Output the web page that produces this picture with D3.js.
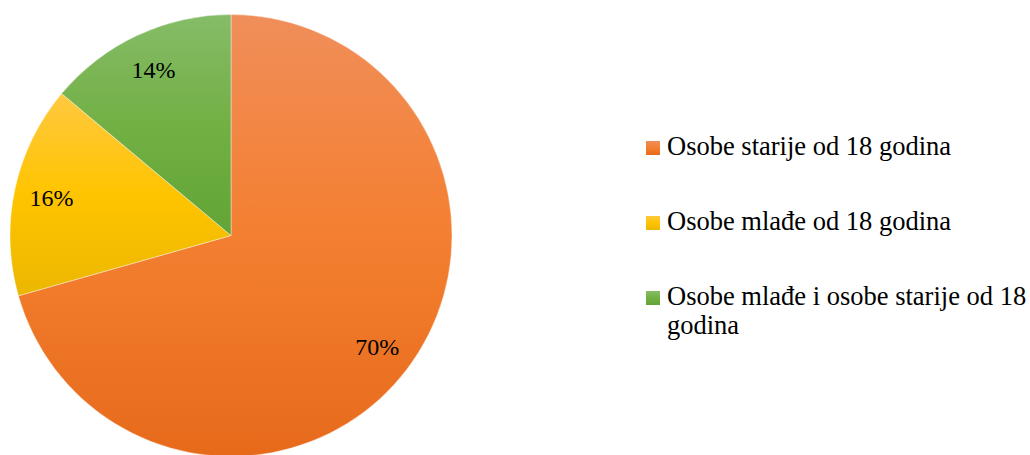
<!DOCTYPE html>
<html>
<head>
<meta charset="utf-8">
<script src="https://cdn.jsdelivr.net/npm/d3@7"></script>
<style>
  html, body { margin: 0; padding: 0; background: #fff; }
  svg { display: block; }
  text { font-family: "Liberation Serif", "Times New Roman", serif; fill: #000; }
</style>
</head>
<body>
<svg id="chart" width="1030" height="455"></svg>
<script>
const categories = ["Osobe starije od 18 godina", "Osobe mlađe od 18 godina", "Osobe mlađe i osobe starije od 18 godina"];
const values = [70.6, 15.5, 13.9];
const valueLabels = ["70%", "16%", "14%"];
const gradStops = [
  ["#F08E5A", "#F47F30", "#E76A1B"],
  ["#FFC940", "#FFC400", "#EBB700"],
  ["#85BC68", "#72B044", "#62A435"]
];
const legendColors = ["#EE7A35", "#FFC31A", "#6DAE45"];

const svg = d3.select("#chart");
const W = 1030, H = 455;
const cx = 231, cy = 235.5, r = 221;

const defs = svg.append("defs");
gradStops.forEach((stops, i) => {
  const g = defs.append("linearGradient").attr("id", "g" + i)
    .attr("x1", 0).attr("y1", 0).attr("x2", 0).attr("y2", 1);
  g.selectAll("stop").data(stops).join("stop")
    .attr("offset", (d, j) => j / (stops.length - 1))
    .attr("stop-color", d => d);
});

const data = categories.map((c, i) => ({ cat: c, value: values[i], label: valueLabels[i], i }));
const pie = d3.pie().sort(null).value(d => d.value);
const arcs = pie(data);
const arc = d3.arc().innerRadius(0).outerRadius(r);
const labelArc = d3.arc().innerRadius(r * 0.83).outerRadius(r * 0.83);

const g = svg.append("g").attr("transform", `translate(${cx},${cy})`);
g.selectAll("path").data(arcs).join("path")
  .attr("d", arc)
  .attr("fill", d => `url(#g${d.data.i})`)
  .attr("stroke", "#fff").attr("stroke-width", 0.4);

g.selectAll("text.lbl").data(arcs).join("text")
  .attr("class", "lbl")
  .attr("transform", d => `translate(${labelArc.centroid(d)})`)
  .attr("text-anchor", "middle")
  .attr("dy", "0.35em")
  .attr("font-size", 24)
  .text(d => d.data.label);

// Legend
const lx = 646, textX = 667, maxW = W - textX - 1;
const rowY = [155, 230, 305];
const lineH = 29;
const leg = svg.append("g");
data.forEach((d, i) => {
  leg.append("rect")
    .attr("x", lx).attr("y", rowY[i] - 14)
    .attr("width", 14).attr("height", 14)
    .attr("fill", `url(#g${i})`);
  const t = leg.append("text").attr("x", textX).attr("y", rowY[i]).attr("font-size", 26.5);
  const words = d.cat.split(" ");
  let line = [], lineNo = 0;
  let ts = t.append("tspan").attr("x", textX).attr("y", rowY[i]);
  words.forEach(w => {
    line.push(w);
    ts.text(line.join(" "));
    if (ts.node().getComputedTextLength() > maxW && line.length > 1) {
      line.pop();
      ts.text(line.join(" "));
      line = [w];
      lineNo++;
      ts = t.append("tspan").attr("x", textX).attr("y", rowY[i] + lineNo * lineH).text(w);
    }
  });
});
</script>
</body>
</html>
